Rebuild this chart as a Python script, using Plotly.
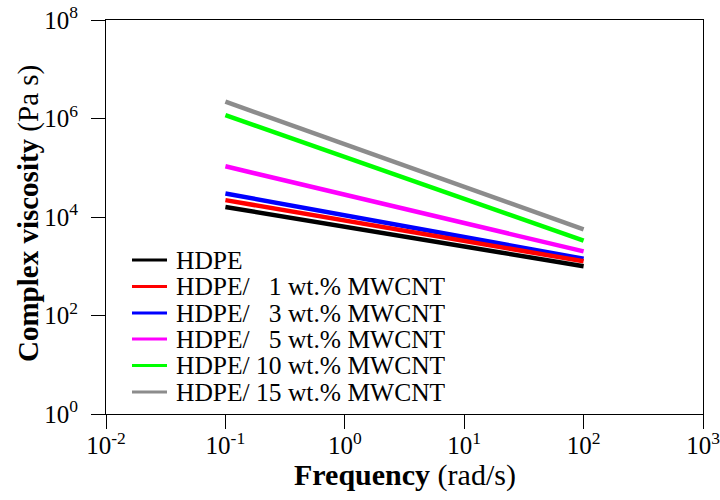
import plotly.graph_objects as go

freq = [0.1, 0.316, 1, 3.16, 10, 31.6, 100]
series_names = ["HDPE", "HDPE/\u00a0\u00a0\u00a01 wt.% MWCNT", "HDPE/\u00a0\u00a0\u00a03 wt.% MWCNT",
                "HDPE/\u00a0\u00a0\u00a05 wt.% MWCNT", "HDPE/ 10 wt.% MWCNT", "HDPE/ 15 wt.% MWCNT"]
hdpe = [1.6e4, 1.0e4, 6.3e3, 4.0e3, 2.5e3, 1.6e3, 1.0e3]
mw1 = [2.2e4, 1.36e4, 8.5e3, 5.2e3, 3.2e3, 2.0e3, 1.26e3]
mw3 = [3.0e4, 1.8e4, 1.1e4, 6.5e3, 3.9e3, 2.35e3, 1.42e3]
mw5 = [1.07e5, 5.5e4, 2.8e4, 1.46e4, 7.6e3, 3.9e3, 2.0e3]
mw10 = [1.17e6, 4.4e5, 1.66e5, 6.2e4, 2.3e4, 8.8e3, 3.3e3]
mw15 = [2.2e6, 8.1e5, 3.0e5, 1.12e5, 4.2e4, 1.55e4, 5.6e3]
colors = ["#000000", "#ff0000", "#0000ff", "#ff00ff", "#00ff00", "#8c8c8c"]
series = [hdpe, mw1, mw3, mw5, mw10, mw15]

x_tickvals = [0.01, 0.1, 1, 10, 100, 1000]
x_ticktext = ["10<sup>-2</sup>", "10<sup>-1</sup>", "10<sup>0</sup>", "10<sup>1</sup>", "10<sup>2</sup>", "10<sup>3</sup>"]
y_tickvals = [1, 1e2, 1e4, 1e6, 1e8]
y_ticktext = ["10<sup>0</sup>", "10<sup>2</sup>", "10<sup>4</sup>", "10<sup>6</sup>", "10<sup>8</sup>"]
x_title = "<b>Frequency</b> (rad/s)"
y_title = "<b>Complex viscosity</b> (Pa s)"

FONT = "Liberation Serif, Times New Roman, serif"

fig = go.Figure()
# draw in reverse so HDPE ends on top
for name, vals, col in reversed(list(zip(series_names, series, colors))):
    fig.add_trace(go.Scatter(x=freq, y=vals, mode="lines", name=name,
                             line=dict(color=col, width=4.5), showlegend=False))

# plot area in pixels
L, R, T, B = 106, 703, 20, 414
W, H = R - L, B - T

# manual legend
row_y = [260, 286.5, 313, 339, 365.5, 392]
for name, col, py in zip(series_names, colors, row_y):
    yp = (B - py) / H
    fig.add_shape(type="line", xref="paper", yref="paper",
                  x0=(132 - L) / W, x1=(167 - L) / W, y0=yp, y1=yp,
                  line=dict(color=col, width=3))
    fig.add_annotation(xref="paper", yref="paper", x=(174 - L) / W, y=yp,
                       xanchor="left", yanchor="middle", showarrow=False,
                       height=25, valign="middle",
                       text=name, font=dict(family=FONT, size=25.5, color="black"))

# axis titles
fig.add_annotation(xref="paper", yref="paper", x=(405 - L) / W, y=(B - 475) / H,
                   xanchor="center", yanchor="middle", showarrow=False,
                   text=x_title, font=dict(family=FONT, size=30, color="black"))
fig.add_annotation(xref="paper", yref="paper", x=(28 - L) / W, y=(B - 214) / H,
                   xanchor="center", yanchor="middle", showarrow=False, textangle=-90,
                   text=y_title, font=dict(family=FONT, size=29, color="black"))

fig.update_layout(
    width=720, height=500,
    margin=dict(l=L, r=720 - R, t=T, b=500 - B),
    paper_bgcolor="white", plot_bgcolor="white",
    font=dict(family=FONT, color="black"),
    xaxis=dict(type="log", range=[-2, 3], tickvals=x_tickvals, ticktext=x_ticktext,
               ticks="outside", ticklen=14, tickwidth=1, tickcolor="black",
               showline=True, linecolor="black", linewidth=1, mirror=True,
               showgrid=False, zeroline=False, ticklabeloverflow="allow",
               ticklabelstandoff=-5, automargin=False,
               tickfont=dict(family=FONT, size=25)),
    yaxis=dict(type="log", range=[0, 8], tickvals=y_tickvals, ticktext=y_ticktext,
               ticks="outside", ticklen=14, tickwidth=1, tickcolor="black",
               showline=True, linecolor="black", linewidth=1, mirror=True,
               showgrid=False, zeroline=False, ticklabeloverflow="allow",
               ticklabelstandoff=8, automargin=False,
               tickfont=dict(family=FONT, size=25)),
)

fig.write_html("out.html")
